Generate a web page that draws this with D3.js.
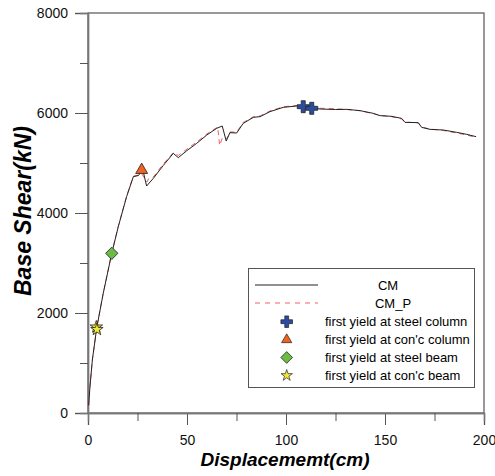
<!DOCTYPE html>
<html><head><meta charset="utf-8">
<script src="https://cdn.jsdelivr.net/npm/d3@7"></script>
<style>body{margin:0;background:#fff}svg{display:block}text{font-family:"Liberation Sans",Arial,sans-serif}</style>
</head><body><svg id="c" width="495" height="476"></svg>
<script>
const cmX = [0.3,1,2.2,4.4,7.7,12,15.3,19.5,22.9,25.5,27.6,29.6,33,38,43.1,45.6,50,54.9,60,65,67.8,69.8,71.7,75.1,78.4,83.5,86.9,91.9,98.6,105.4,112,117.2,125,130.7,137.4,144.1,147.5,153,158.4,160.1,166.8,168.5,172.7,179.4,186.2,191.3,196];
const cmY = [150,527,1060,1700,2393,3194,3727,4327,4727,4750,4880,4540,4693,4950,5193,5107,5250,5393,5560,5693,5740,5440,5607,5600,5793,5913,5927,6027,6113,6140,6110,6080,6070,6073,6047,5993,5947,5935,5893,5813,5807,5713,5673,5660,5613,5573,5527];
const cmpX = [0.3,1,2.2,4.4,7.7,12,15.3,19.5,22.9,25.5,27,28.5,29.8,30.5,33,38,43.1,45.6,50,54.9,60,65.5,66.5,68,70,71.7,75.1,78.4,83.5,86.9,91.9,98.6,105.4,112,117.2,125,130.7,137.4,144.1,147.5,153,158.4,160.1,166.8,168.5,172.7,179.4,186.2,191.3,196];
const cmpY = [150,530,1065,1705,2400,3200,3735,4335,4735,4760,4790,4700,4620,4680,4720,4980,5210,5150,5280,5420,5580,5720,5350,5520,5480,5620,5620,5810,5925,5940,6040,6125,6150,6125,6095,6085,6070,6045,5985,5950,5930,5880,5820,5800,5720,5680,5650,5600,5560,5510];
const markerNames = ["first yield at steel column","first yield at con'c column","first yield at steel beam","first yield at con'c beam"];
const markerX = [[108.7,113],[27.1],[12],[4.2,4.5]];
const markerY = [[6126,6094],[4860],[3194],[1720,1670]];
const xTicks = [0,50,100,150,200];
const xMinor = [25,75,125,175];
const yTicks = [0,2000,4000,6000,8000];
const yMinor = [1000,3000,5000,7000];
const seriesNames = ["CM","CM_P"];

const svg = d3.select("#c");
const L=88,R=484,T=13,B=413;
const x = d3.scaleLinear().domain([0,200]).range([L,R]);
const y = d3.scaleLinear().domain([0,8000]).range([B,T]);

// frame
svg.append("rect").attr("x",L).attr("y",T).attr("width",R-L).attr("height",B-T)
  .attr("fill","none").attr("stroke","#555").attr("stroke-width",1.2);

// axes
const gy = svg.append("g").attr("transform",`translate(${L},0)`)
  .call(d3.axisLeft(y).tickValues(yTicks).tickSize(13).tickPadding(7).tickFormat(d3.format("d")));
const gym = svg.append("g").attr("transform",`translate(${L},0)`)
  .call(d3.axisLeft(y).tickValues(yMinor).tickSize(8).tickFormat(""));
const gx = svg.append("g").attr("transform",`translate(0,${B})`)
  .call(d3.axisBottom(x).tickValues(xTicks).tickSize(12).tickPadding(10).tickFormat(d3.format("d")));
const gxm = svg.append("g").attr("transform",`translate(0,${B})`)
  .call(d3.axisBottom(x).tickValues(xMinor).tickSize(8).tickFormat(""));
[gy,gym,gx,gxm].forEach(g=>{
  g.selectAll(".domain").attr("stroke","#777").attr("stroke-width",1.4);
  g.selectAll("line").attr("stroke","#555");
  g.selectAll("text").attr("font-size",14).attr("fill","#111").style("font-family","Liberation Sans, Arial");
});

// titles
svg.append("text").attr("transform","translate(31,211) rotate(-90)").attr("text-anchor","middle")
  .attr("font-size",23).attr("font-weight","bold").attr("font-style","italic").text("Base Shear(kN)");
svg.append("text").attr("x",285).attr("y",466).attr("text-anchor","middle")
  .attr("font-size",19).attr("font-weight","bold").attr("font-style","italic").text("Displacememt(cm)");

// lines
const line = d3.line().x(d=>x(d[0])).y(d=>y(d[1]));
svg.append("path").datum(cmpX.map((v,i)=>[v,cmpY[i]])).attr("d",line)
  .attr("fill","none").attr("stroke","#f06060").attr("stroke-width",1).attr("stroke-dasharray","5,4");
svg.append("path").datum(cmX.map((v,i)=>[v,cmY[i]])).attr("d",line)
  .attr("fill","none").attr("stroke","#222").attr("stroke-width",1);

// markers
const symDefs = [
  {type:d3.symbolCross,size:80,fill:"#2b4c9f",rot:0,ls:75},
  {type:d3.symbolTriangle,size:62,fill:"#f0621e",rot:0,ls:45},
  {type:d3.symbolSquare,size:76,fill:"#6cbb45",rot:45,ls:70},
  {type:d3.symbolStar,size:48,fill:"#f2e83a",rot:0,ls:40}
];
markerX.forEach((xs,k)=>{
  xs.forEach((xv,j)=>{
    svg.append("path").attr("d",d3.symbol().type(symDefs[k].type).size(symDefs[k].size)())
      .attr("transform",`translate(${x(xv)},${y(markerY[k][j])}) rotate(${symDefs[k].rot})`)
      .attr("fill",symDefs[k].fill).attr("stroke","#222").attr("stroke-width",0.8);
  });
});

// legend
const lg = svg.append("g");
lg.append("rect").attr("x",248.5).attr("y",268.5).attr("width",226).attr("height",119)
  .attr("fill","#fff").attr("stroke","#555").attr("stroke-width",1);
lg.append("line").attr("x1",255).attr("x2",318).attr("y1",285).attr("y2",285).attr("stroke","#222");
lg.append("line").attr("x1",255).attr("x2",318).attr("y1",303).attr("y2",303).attr("stroke","#f06060").attr("stroke-dasharray","5,5");
lg.append("text").attr("x",388).attr("y",290).attr("text-anchor","middle").attr("font-size",13).text(seriesNames[0]);
lg.append("text").attr("x",393).attr("y",307.5).attr("text-anchor","middle").attr("font-size",13).text(seriesNames[1]);
const ly = [321.7,339.7,357.5,375.5];
markerNames.forEach((n,k)=>{
  lg.append("path").attr("d",d3.symbol().type(symDefs[k].type).size(symDefs[k].ls)())
    .attr("transform",`translate(286.7,${ly[k]}) rotate(${symDefs[k].rot})`)
    .attr("fill",symDefs[k].fill).attr("stroke","#222").attr("stroke-width",0.7);
  lg.append("text").attr("x",325).attr("y",ly[k]+4.7).attr("font-size",13).text(n);
});
</script></body></html>
